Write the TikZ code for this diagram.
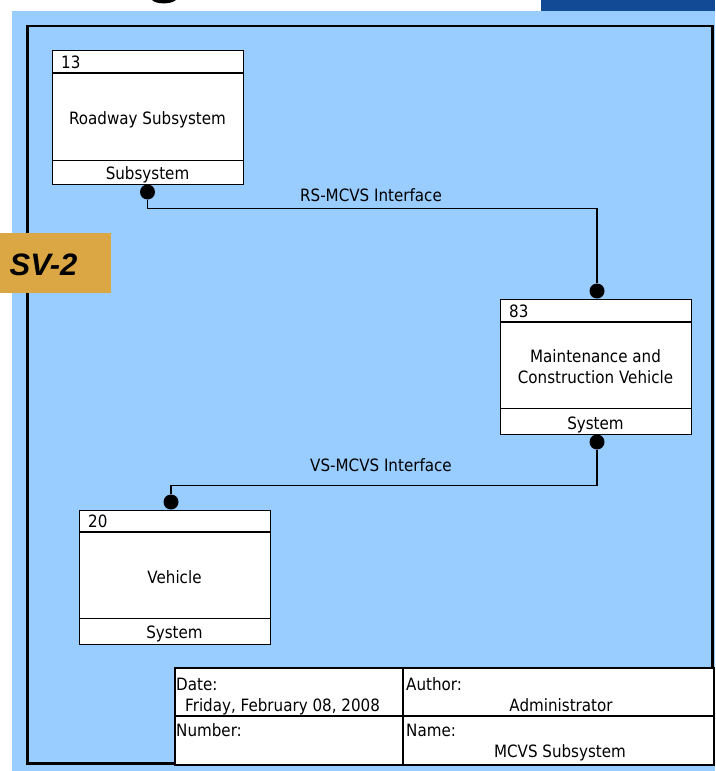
\documentclass[tikz,border=0pt]{standalone}
\usepackage{fontspec}
\setmainfont{DejaVu Sans}[FakeStretch=0.89]
\newfontfamily\tagfont{Liberation Sans}[BoldItalicFont={* Bold Italic}]
\definecolor{sheet}{RGB}{153,204,255}
\definecolor{bannerblue}{RGB}{18,74,150}
\definecolor{tagorange}{RGB}{219,167,68}
\tikzset{
  sysbox/.style={draw=black, fill=white, line width=1.3pt, anchor=north west, inner sep=0pt},
  rowline/.style={draw=black, line width=1.3pt},
  dot/.style={circle, fill=black, inner sep=0pt, minimum size=15pt},
  conn/.style={draw=black, line width=1.3pt},
  lbl/.style={inner sep=0pt, font=\fontsize{17}{21}\selectfont},
  blockline/.style={draw=black, line width=2pt},
}
\begin{document}
\begin{tikzpicture}[x=1pt, y=-1pt]
\useasboundingbox (0,0) rectangle (715,771);

% sheet background, banner strip and drawing frame
\fill[white] (0,0) rectangle (715,771);
\fill[sheet] (12,11) rectangle (715,771);
\fill[bannerblue] (541,0) rectangle (715,11);
\fill[black] (152,0) .. controls (156,4.5) and (171,4.5) .. (176,0) -- cycle;
\draw[line width=2.5pt] (27.5,26) rectangle (712.5,763.5);

% view tag
\node[fill=tagorange, minimum width=111pt, minimum height=60pt, inner sep=0pt, anchor=north west] (tag) at (0,233) {};
\node[inner sep=0pt, font=\tagfont\bfseries\itshape\fontsize{31}{31}\selectfont, anchor=base] (tagtext) at (43.5,275) {SV-2};

% Roadway Subsystem
\node[sysbox, minimum width=191pt, minimum height=134pt] (rs) at (52,50) {};
\draw[rowline] (52,73) -- (243,73);
\draw[rowline] (52,160.5) -- (243,160.5);
\node[lbl, anchor=base west] (rsid) at (61,68) {13};
\node[lbl, anchor=base] (rsname) at (147.5,124) {Roadway Subsystem};
\node[lbl, anchor=base] (rstype) at (147.5,179) {Subsystem};

% Maintenance and Construction Vehicle
\node[sysbox, minimum width=191pt, minimum height=135pt] (mcv) at (500,299) {};
\draw[rowline] (500,322) -- (691,322);
\draw[rowline] (500,408.5) -- (691,408.5);
\node[lbl, anchor=base west] (mcvid) at (509,317) {83};
\node[lbl, anchor=base] (mcvname1) at (595.5,362) {Maintenance and};
\node[lbl, anchor=base] (mcvname2) at (595.5,383) {Construction Vehicle};
\node[lbl, anchor=base] (mcvtype) at (595.5,429) {System};

% Vehicle
\node[sysbox, minimum width=191pt, minimum height=134pt] (veh) at (79,509.5) {};
\draw[rowline] (79,532) -- (270,532);
\draw[rowline] (79,618.5) -- (270,618.5);
\node[lbl, anchor=base west] (vehid) at (88,527) {20};
\node[lbl, anchor=base] (vehname) at (174.5,583) {Vehicle};
\node[lbl, anchor=base] (vehtype) at (174.5,638) {System};

% interface end points
\node[dot] (rsport) at (147.5,192) {};
\node[dot] (mcvtop) at (597,291) {};
\node[dot] (mcvbot) at (597,442) {};
\node[dot] (vehport) at (171,502) {};

% interfaces
\draw[conn] (rsport.south) -- ++(0,9) -| (mcvtop.north);
\node[lbl, anchor=base] (rsif) at (371,201) {RS-MCVS Interface};
\draw[conn] (mcvbot.south) -- ++(0,36) -| (vehport.north);
\node[lbl, anchor=base] (vsif) at (381,471) {VS-MCVS Interface};

% title block
\node[draw=black, fill=white, line width=2pt, minimum width=539pt, minimum height=97pt, inner sep=0pt, anchor=north west] (block) at (174,667) {};
\draw[blockline] (403,667) -- (403,764);
\draw[blockline] (174,716) -- (713,716);
\node[lbl, anchor=base west] (datek) at (176,690) {Date:};
\node[lbl, anchor=base west] (datev) at (185,711) {Friday, February 08, 2008};
\node[lbl, anchor=base west] (authork) at (406,690) {Author:};
\node[lbl, anchor=base] (authorv) at (561,711) {Administrator};
\node[lbl, anchor=base west] (numk) at (176,736) {Number:};
\node[lbl, anchor=base west] (namek) at (406,736) {Name:};
\node[lbl, anchor=base] (namev) at (560,757) {MCVS Subsystem};
\end{tikzpicture}
\end{document}
